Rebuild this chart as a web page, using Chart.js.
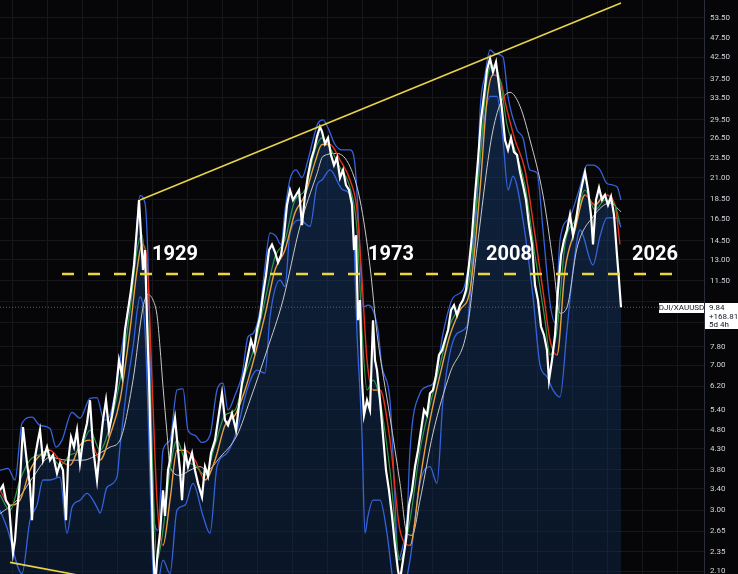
<!DOCTYPE html>
<html>
<head>
<meta charset="utf-8">
<script src="https://cdn.jsdelivr.net/npm/chart.js@4.4.0/dist/chart.umd.min.js"></script>
<style>
    html, body { margin: 0; padding: 0; background: #060608; }
    #wrap { width: 738px; height: 574px; }
</style>
</head>
<body>
<div id="wrap"><canvas id="grafico" width="738" height="574"></canvas></div>
<script>
// Razão DJI/XAUUSD (escala log)
const ratioYears = [
    1901.9,1902.5,1903.1,1903.7,1904.1,1904.5,1904.9,1905.3,1905.9,1906.5,
    1906.9,1907.3,1907.9,1908.3,1908.9,1909.5,1909.9,1910.5,1911.3,1911.9,
    1912.5,1913.3,1913.9,1914.5,1915.1,1915.5,1916.1,1916.7,1917.3,1917.9,
    1918.5,1919.3,1919.9,1920.5,1921.3,1921.9,1922.5,1923.1,1923.7,1924.3,
    1925.1,1925.7,1926.3,1926.9,1927.5,1928.1,1928.7,1929.1,1929.5,1929.7,
    1930.1,1930.5,1930.9,1931.3,1931.7,1932.1,1932.5,1932.9,1933.3,1933.9,
    1934.5,1934.9,1935.5,1935.9,1936.5,1936.9,1937.5,1937.9,1938.3,1938.9,
    1939.5,1940.3,1940.9,1941.5,1942.3,1942.9,1943.5,1944.1,1944.9,1945.5,
    1946.3,1946.9,1947.5,1948.3,1949.1,1949.7,1950.3,1950.9,1951.5,1952.1,
    1952.7,1953.3,1953.9,1954.5,1955.1,1955.7,1956.3,1956.9,1957.5,1958.1,
    1958.7,1959.3,1959.9,1960.5,1961.1,1961.7,1962.3,1962.9,1963.5,1964.1,
    1964.7,1965.3,1965.9,1966.3,1966.9,1967.5,1968.1,1968.7,1969.3,1969.9,
    1970.5,1971.1,1971.7,1972.3,1972.7,1973.1,1973.5,1973.9,1974.3,1974.7,
    1975.3,1975.9,1976.5,1976.9,1977.3,1977.9,1978.5,1979.1,1979.7,1980.3,
    1980.9,1981.5,1981.9,1982.5,1983.1,1983.7,1984.3,1984.9,1985.5,1986.1,
    1986.7,1987.3,1987.9,1988.5,1989.1,1989.7,1990.3,1990.9,1991.5,1992.1,
    1992.7,1993.3,1993.9,1994.5,1995.1,1995.7,1996.3,1996.9,1997.5,1998.1,
    1998.7,1999.3,1999.9,2000.5,2001.1,2001.7,2002.3,2002.9,2003.5,2004.1,
    2004.7,2005.3,2005.9,2006.5,2007.1,2007.7,2008.3,2008.9,2009.5,2010.1,
    2010.7,2011.3,2011.7,2012.3,2012.9,2013.5,2014.1,2014.7,2015.3,2015.9,
    2016.5,2017.1,2017.7,2018.3,2018.9,2019.5,2020.1,2020.5,2021.1,2021.7,
    2022.3,2022.9,2023.5,2024.1,2024.7,2025.3,2025.7,2026.1
];
const ratioValues = [
    3.37,3.47,3.18,3.09,2.67,2.33,2.52,2.95,3.58,4.88,
    4.39,3.95,3.47,2.83,4.09,4.52,4.79,4.02,4.34,4.02,
    4.14,3.72,3.95,3.79,2.83,3.95,4.60,4.34,4.79,3.95,
    4.52,4.99,5.71,4.34,3.58,4.34,5.08,5.71,4.79,5.23,
    6.06,7.22,6.61,8.61,9.67,10.88,12.6,14.58,16.9,18.43,
    15.0,12.23,13.75,9.12,6.42,4.02,2.52,1.88,2.24,2.63,
    3.37,2.90,3.79,4.02,4.79,5.14,4.26,3.79,3.18,4.26,
    3.87,4.19,3.79,3.51,3.24,3.87,3.66,4.19,4.52,5.08,
    5.95,5.08,4.93,5.29,4.79,5.55,6.31,6.81,7.44,8.12,
    7.65,8.61,9.29,10.57,11.87,13.75,14.2,13.59,12.79,13.35,
    15.0,17.9,19.54,18.43,18.97,19.54,15.9,18.97,21.3,23.29,
    24.70,26.7,28.3,27.5,25.6,26.5,23.98,22.6,23.6,20.97,
    21.97,20.1,19.54,17.9,13.75,15.0,9.12,10.26,6.42,5.23,
    5.71,5.39,9.12,7.22,6.81,5.71,4.65,3.79,3.37,2.90,
    2.44,2.11,1.99,2.24,2.52,3.09,3.37,3.87,4.26,4.79,
    5.39,5.23,5.95,6.06,6.61,7.44,7.65,8.12,8.61,9.67,
    9.96,9.39,9.96,10.26,10.88,12.6,15.0,18.97,23.29,29.44,
    34.0,39.46,42.2,39.0,41.3,36.1,31.22,26.19,24.70,26.5,
    24.4,24.0,21.7,20.1,18.43,15.9,14.2,11.2,10.26,8.79,
    8.36,7.65,6.42,7.22,8.36,10.88,13.35,14.58,15.46,16.9,
    15.0,16.39,18.43,20.1,21.7,19.54,16.9,14.2,18.43,19.8,
    18.43,18.97,17.9,18.8,16.9,13.35,11.53,9.84
];

// Bandas (azul)
const upperYears = [
    1901.9,1903.5,1904.9,1906.3,1908.3,1909.9,1911.9,1913.1,1914.3,1916.3,
    1917.9,1919.9,1921.3,1922.7,1923.9,1925.3,1926.5,1927.9,1928.9,1929.5,
    1929.9,1930.9,1931.5,1932.1,1932.7,1933.5,1934.5,1935.9,1937.3,1938.5,
    1939.5,1940.9,1942.3,1943.9,1945.3,1946.5,1947.5,1948.9,1950.3,1951.5,
    1952.5,1953.9,1954.9,1955.9,1957.1,1958.1,1958.9,1959.9,1961.1,1962.3,
    1963.5,1964.5,1965.5,1966.5,1967.5,1968.9,1970.3,1971.9,1972.9,1973.7,
    1974.5,1975.5,1976.5,1977.5,1978.3,1979.9,1980.9,1981.5,1982.5,1983.3,
    1983.9,1985.9,1987.3,1988.9,1990.5,1992.5,1994.5,1995.9,1997.3,1997.9,
    1998.9,1999.9,2000.9,2002.5,2003.5,2005.3,2006.5,2007.9,2009.3,2010.5,
    2011.9,2012.9,2013.9,2015.9,2017.9,2019.3,2020.5,2021.9,2023.3,2025.3,
    2026.1
];
const upperValues = [
    3.79,3.83,3.58,4.99,5.17,4.93,4.84,4.34,4.52,5.32,
    5.14,5.77,5.80,5.08,5.23,6.42,8.12,10.4,12.97,17.38,
    18.9,18.1,12.97,5.71,2.83,2.67,4.26,4.52,6.06,6.1,
    4.79,4.65,4.46,4.65,6.06,6.31,5.39,5.88,6.61,8.27,
    8.44,9.67,12.5,15.2,14.9,14.2,17.38,20.8,21.97,21.0,
    23.29,26.19,28.9,29.44,28.1,25.5,24.7,24.7,22.6,15.46,
    9.84,9.96,9.67,8.61,6.95,5.71,3.18,2.24,2.44,2.83,
    4.26,5.95,6.18,6.42,8.44,10.4,10.88,13.2,18.43,30.9,
    38.3,44.36,43.4,42.6,33.7,27.77,26.5,21.97,21.6,15.46,
    10.1,9.0,14.58,16.7,19.9,22.6,22.6,21.97,20.3,19.9,
    18.43
];
const lowerYears = [
    1901.9,1903.3,1906.3,1907.9,1909.3,1910.5,1911.9,1913.9,1915.3,1916.3,
    1917.9,1919.3,1921.3,1921.9,1923.3,1925.3,1925.9,1927.3,1928.5,1929.9,
    1930.9,1931.5,1932.3,1932.9,1934.5,1935.9,1937.3,1938.9,1940.5,1942.5,
    1943.9,1945.3,1947.3,1949.3,1951.3,1953.3,1954.9,1955.9,1957.9,1958.9,
    1959.9,1961.9,1963.9,1965.3,1966.3,1967.9,1970.5,1972.3,1973.3,1974.3,
    1974.9,1975.5,1976.5,1977.9,1979.3,1980.5,1981.9,1983.9,1985.9,1987.9,
    1989.3,1990.5,1993.3,1995.3,1995.9,1997.3,1998.5,1999.9,2001.3,2002.5,
    2003.5,2004.5,2006.5,2008.5,2009.9,2011.3,2012.5,2013.9,2015.3,2016.5,
    2017.9,2020.5,2021.9,2023.3,2025.3,2026.1
];
const lowerValues = [
    3.0,2.71,2.07,2.83,3.09,3.58,3.58,3.64,2.62,3.05,
    3.18,3.31,3.05,2.95,3.43,3.64,4.34,6.18,7.79,10.45,
    8.61,5.32,2.42,1.77,2.24,2.07,3.0,3.09,3.51,2.90,
    2.62,3.87,4.19,4.79,6.06,6.81,6.69,9.29,11.53,11.1,
    15.2,16.39,15.8,20.1,20.72,21.97,19.54,18.43,8.44,4.65,
    2.62,2.90,3.18,3.18,2.62,1.99,1.77,2.24,3.51,3.87,
    3.51,5.71,8.44,8.8,10.4,18.8,27.77,33.8,33.8,26.19,
    19.54,21.2,16.39,10.45,7.02,6.55,6.06,5.82,8.61,12.23,
    15.46,12.6,14.9,16.6,16.6,15.7
];

// Médias móveis
const maYears = [
    1901.9,1903.9,1905.9,1907.9,1909.9,1911.9,1913.9,1915.9,1917.9,1919.9,
    1921.9,1923.9,1925.9,1927.9,1929.3,1930.3,1931.3,1932.3,1933.3,1934.5,
    1935.9,1937.3,1938.9,1940.9,1942.9,1944.9,1946.9,1948.9,1950.9,1952.9,
    1954.9,1956.9,1958.9,1960.9,1962.9,1964.9,1966.3,1967.9,1969.9,1971.9,
    1973.3,1974.3,1975.3,1976.5,1977.9,1979.9,1981.9,1983.9,1985.9,1987.9,
    1989.9,1991.9,1993.9,1995.9,1997.9,1999.3,2000.5,2001.9,2003.3,2004.9,
    2006.9,2008.9,2010.9,2011.9,2013.3,2014.9,2016.9,2018.9,2020.9,2022.9,
    2024.9,2025.9
];
const greenValues = [
    3.28,3.0,3.58,4.02,4.14,4.14,3.90,4.14,4.26,4.79,
    4.26,4.93,6.42,9.67,13.75,15.0,10.26,4.26,2.24,2.67,
    3.79,4.52,4.02,3.90,3.68,4.39,5.23,5.39,6.61,7.88,
    10.26,13.2,14.58,18.43,19.54,24.70,26.5,25.0,22.3,19.8,
    15.46,8.61,6.06,6.42,5.71,3.79,2.24,2.83,4.26,5.55,
    7.01,8.86,9.96,11.87,23.29,37.21,40.6,37.21,28.6,24.70,
    20.1,13.35,9.12,7.44,8.61,14.2,16.39,19.54,17.38,18.43,
    17.9,16.0
];
const redValues = [
    3.37,3.09,3.18,3.79,4.14,4.26,4.02,3.90,4.39,4.52,
    4.02,4.65,5.71,8.61,12.23,14.2,12.97,6.42,3.18,2.44,
    3.18,4.26,4.26,4.02,3.58,4.02,4.93,5.23,6.06,7.44,
    9.39,12.23,13.75,17.1,18.97,23.0,25.5,25.5,23.29,20.72,
    17.38,11.53,7.22,6.06,6.06,4.52,2.67,2.44,3.58,5.08,
    6.61,8.36,9.67,10.88,19.54,33.1,38.3,37.21,31.22,26.19,
    21.97,15.0,9.96,8.12,7.44,12.23,15.46,18.97,17.9,18.97,
    17.9,14.2
];
const greyYears = [
    1901.9,1905.3,1908.5,1911.9,1915.3,1918.5,1921.9,1923.9,1925.9,1928.5,
    1930.5,1931.5,1932.5,1933.3,1933.9,1934.5,1935.3,1935.9,1937.9,1939.9,
    1941.9,1943.3,1945.9,1949.3,1951.9,1955.3,1958.5,1961.9,1965.3,1966.5,
    1969.3,1971.9,1973.9,1975.9,1977.3,1979.9,1981.9,1983.3,1984.3,1985.9,
    1988.5,1991.9,1995.3,1997.3,2000.5,2003.9,2005.9,2007.9,2010.5,2012.5,
    2013.9,2015.3,2017.3,2020.5,2023.9,2026.1
];
const greyValues = [
    2.94,3.18,3.64,4.09,4.02,4.02,4.19,4.34,4.52,6.42,
    9.84,10.6,10.26,9.39,7.79,6.18,4.71,3.87,3.68,3.79,
    3.87,3.79,4.09,4.65,5.71,7.65,10.26,15.8,21.5,23.8,
    24.2,22.4,18.43,12.5,8.44,5.17,3.51,2.62,2.59,3.18,
    4.71,6.69,8.61,13.9,27.77,34.6,31.9,26.19,18.97,12.8,
    9.5,9.84,13.9,16.7,18.1,17.2
];

// Linhas de tendência (amarelo)
const topLineYears = [1929.9, 2026.1];
const topLineValues = [18.43, 58.4];
const baseLineYears = [1903.9, 1925.9];
const baseLineValues = [2.21, 1.96];
const levelYears = [1914.3, 2038.5];
const levelValues = [11.95, 11.95];

// Anotações
const labelTexts = ['1929', '1973', '2008', '2026'];
const labelYears = [1932.3, 1975.5, 1999.1, 2028.3];
const labelValue = 13.39;

// Eixo Y
const yTicks = [53.5, 47.5, 42.5, 37.5, 33.5, 29.5, 26.5, 23.5, 21, 18.5, 16.5, 14.5, 13, 11.5,
    10.2, 9.0, 7.8, 7.0, 6.2, 5.4, 4.8, 4.3, 3.8, 3.4, 3.0, 2.65, 2.35, 2.1];
const hiddenTicks = [10.2, 9.0];
const lastValue = 9.84;
const lastChange = '+168.81%';
const lastTimer = '5d 4h';

const xMin = 1901.9, xMax = 2042.7;
let gridYears = [];
for (let g = 1904.5; g < xMax; g += 7) gridYears.push(g);

const toPoints = (xs, ys) => xs.map((x, i) => ({ x: x, y: ys[i] }));

// gradiente da área
function areaGradient(ctx) {
    const area = ctx.chart.chartArea;
    if (!area) return 'rgba(0,0,0,0)';
    let g = ctx.chart.ctx.createLinearGradient(0, area.top, 0, area.bottom);
    g.addColorStop(0, 'rgba(26,68,125,0.5)');
    g.addColorStop(1, 'rgba(16,42,78,0.45)');
    return g;
}

// sem folga nas bordas da área do gráfico
function semPadding(s) {
    s.paddingTop = 0;
    s.paddingBottom = 0;
    s.paddingLeft = 0;
    s.paddingRight = 0;
}

const anotacoes = {
    id: 'anotacoes',
    afterDatasetsDraw(chart) {
        const { ctx, scales: { x, y } } = chart;
        ctx.save();
        ctx.font = 'bold 20px Roboto, sans-serif';
        ctx.fillStyle = '#ffffff';
        ctx.textBaseline = 'middle';
        labelTexts.forEach((t, i) => {
            ctx.fillText(t, x.getPixelForValue(labelYears[i]), y.getPixelForValue(labelValue));
        });
        ctx.restore();
    },
    afterDraw(chart) {
        const { ctx, chartArea, scales: { y } } = chart;
        const py = Math.round(y.getPixelForValue(lastValue));
        ctx.save();
        ctx.fillStyle = '#ffffff';
        ctx.fillRect(chartArea.right + 1, py - 4, 40, 26);
        ctx.fillRect(chartArea.right - 45, py - 4, 45, 10);
        ctx.fillStyle = '#131722';
        ctx.font = '8px Roboto, sans-serif';
        ctx.textBaseline = 'middle';
        ctx.textAlign = 'center';
        ctx.fillText('DJI/XAUUSD', chartArea.right - 22.5, py + 1);
        ctx.textAlign = 'left';
        ctx.fillText(lastValue.toFixed(2), chartArea.right + 5, py + 1);
        ctx.fillText(lastChange, chartArea.right + 5, py + 10);
        ctx.fillText(lastTimer, chartArea.right + 5, py + 18);
        ctx.restore();
    }
};

new Chart(document.getElementById('grafico'), {
    type: 'line',
    data: {
        datasets: [
            {
                label: 'Topo',
                data: toPoints(topLineYears, topLineValues),
                borderColor: '#e8d44a',
                borderWidth: 1.6,
                order: 0
            },
            {
                label: 'Base',
                data: toPoints(baseLineYears, baseLineValues),
                borderColor: '#e8d44a',
                borderWidth: 1.6,
                order: 0
            },
            {
                label: 'Nivel',
                data: toPoints(levelYears, levelValues),
                borderColor: '#ecd63e',
                borderWidth: 2.5,
                borderDash: [12, 14],
                order: 0
            },
            {
                label: 'DJI/XAUUSD',
                data: toPoints(ratioYears, ratioValues),
                borderColor: '#ffffff',
                borderWidth: 2.2,
                fill: 'start',
                backgroundColor: areaGradient,
                order: 1
            },
            {
                label: 'MM curta',
                data: toPoints(maYears, greenValues),
                borderColor: '#2f9a45',
                borderWidth: 1.2,
                cubicInterpolationMode: 'monotone',
                order: 2
            },
            {
                label: 'MM media',
                data: toPoints(maYears, redValues),
                borderWidth: 1.4,
                cubicInterpolationMode: 'monotone',
                segment: {
                    borderColor: c => c.p1.parsed.y < c.p0.parsed.y ? '#e5331c' : '#e9a23b'
                },
                order: 2
            },
            {
                label: 'MM longa',
                data: toPoints(greyYears, greyValues),
                borderColor: '#c9c9c9',
                borderWidth: 1,
                cubicInterpolationMode: 'monotone',
                order: 3
            },
            {
                label: 'Banda superior',
                data: toPoints(upperYears, upperValues),
                borderColor: '#3463dc',
                borderWidth: 1.3,
                cubicInterpolationMode: 'monotone',
                order: 4
            },
            {
                label: 'Banda inferior',
                data: toPoints(lowerYears, lowerValues),
                borderColor: '#3463dc',
                borderWidth: 1.3,
                cubicInterpolationMode: 'monotone',
                order: 4
            },
            {
                label: 'Atual',
                data: toPoints([xMin, xMax], [lastValue, lastValue]),
                borderColor: '#5d606b',
                borderWidth: 1,
                borderDash: [1, 2],
                order: 5
            }
        ]
    },
    options: {
        responsive: false,
        animation: false,
        layout: { padding: 0 },
        elements: { point: { radius: 0 }, line: { tension: 0 } },
        plugins: {
            legend: { display: false },
            tooltip: { enabled: false },
            filler: { drawTime: 'beforeDatasetsDraw' }
        },
        scales: {
            x: {
                type: 'linear',
                min: xMin,
                max: xMax,
                afterBuildTicks: s => { s.ticks = gridYears.map(v => ({ value: v })); },
                afterFit: s => { s.height = 0; semPadding(s); },
                ticks: { display: false },
                grid: { color: '#17171b', drawTicks: false },
                border: { display: false }
            },
            y: {
                type: 'logarithmic',
                position: 'right',
                min: 2.065,
                max: 59.4,
                afterBuildTicks: s => {
                    s.ticks = [...yTicks].sort((a, b) => a - b).map(v => ({ value: v }));
                },
                afterFit: s => { s.width = 34; semPadding(s); },
                ticks: {
                    autoSkip: false,
                    color: '#d1d4dc',
                    padding: 6,
                    font: { size: 8, family: 'Roboto, sans-serif' },
                    callback: v => hiddenTicks.includes(v) ? '' : Number(v).toFixed(2)
                },
                grid: { color: '#17171b', drawTicks: false },
                border: { display: true, color: '#2a2e39' }
            }
        }
    },
    plugins: [anotacoes]
});
</script>
</body>
</html>
